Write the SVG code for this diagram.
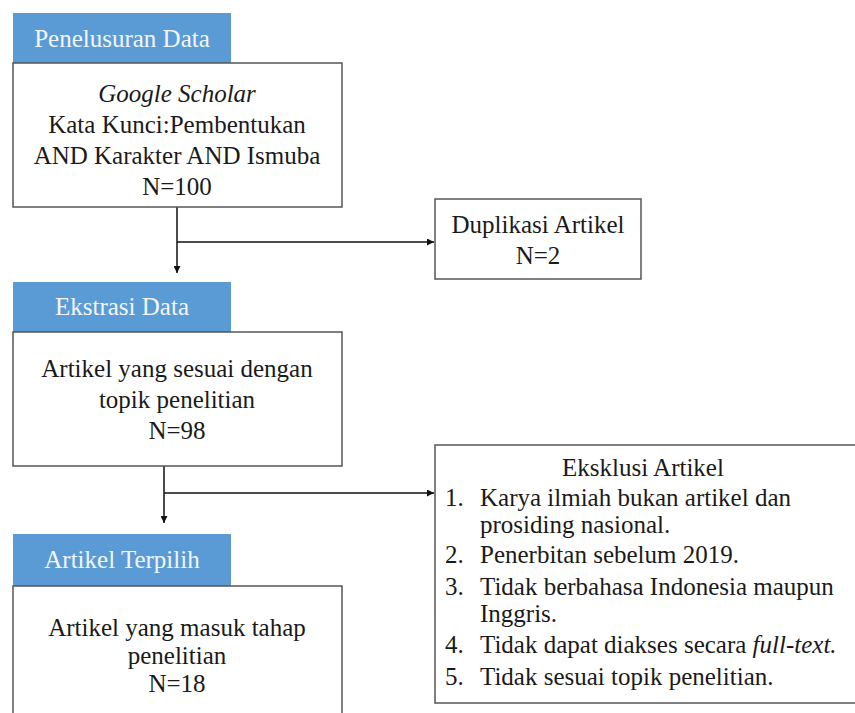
<svg xmlns="http://www.w3.org/2000/svg" width="855" height="713" viewBox="0 0 855 713">
<defs>
<style>
.t{font-family:'Liberation Serif','Times New Roman',Tinos,Times,'Noto Serif','DejaVu Serif',serif;font-size:25px;fill:#1a1a1a}
.c{text-anchor:middle}
.hd{fill:#5b9bd5}
.ht{font-family:'Liberation Serif','Times New Roman',Tinos,Times,'Noto Serif','DejaVu Serif',serif;font-size:25px;fill:#f2f6fb;text-anchor:middle}
.box{fill:#fff;stroke:#555;stroke-width:1.5}
.ln{fill:none;stroke:#111;stroke-width:1.5}
</style>
<marker id="ah" viewBox="0 0 10 10" refX="10" refY="5" markerWidth="7" markerHeight="7" markerUnits="userSpaceOnUse" orient="auto">
<path d="M0,0 L10,5 L0,10 z" fill="#111"/>
</marker>
</defs>
<rect width="855" height="713" fill="#fff"/>
<g id="connectors">
<path class="ln" d="M177,207 V273" marker-end="url(#ah)"/>
<path class="ln" d="M177,242 H434" marker-end="url(#ah)"/>
<path class="ln" d="M164,466 V523" marker-end="url(#ah)"/>
<path class="ln" d="M164,493 H434" marker-end="url(#ah)"/>
</g>
<g id="hdr1">
<rect class="hd" x="13" y="13" width="218" height="50"/>
<text class="ht" x="122" y="47">Penelusuran Data</text>
</g>
<g id="box1">
<rect class="box" x="13" y="63" width="329" height="144"/>
<text class="t c" x="177" y="102" font-style="italic">Google Scholar</text>
<text class="t c" x="177" y="133">Kata Kunci:Pembentukan</text>
<text class="t c" x="177" y="164">AND Karakter AND Ismuba</text>
<text class="t c" x="177" y="195">N=100</text>
</g>
<g id="dup">
<rect class="box" x="435" y="199" width="206" height="80"/>
<text class="t c" x="538" y="233">Duplikasi Artikel</text>
<text class="t c" x="538" y="264">N=2</text>
</g>
<g id="hdr2">
<rect class="hd" x="13" y="282" width="218" height="50"/>
<text class="ht" x="122" y="315">Ekstrasi Data</text>
</g>
<g id="box2">
<rect class="box" x="13" y="332" width="329" height="134"/>
<text class="t c" x="177" y="377">Artikel yang sesuai dengan</text>
<text class="t c" x="177" y="408">topik penelitian</text>
<text class="t c" x="177" y="439">N=98</text>
</g>
<g id="excl">
<rect class="box" x="435" y="445" width="430" height="258"/>
<text class="t c" x="643" y="476">Eksklusi Artikel</text>
<text class="t" x="445" y="506">1.</text>
<text class="t" x="480" y="506">Karya ilmiah bukan artikel dan</text>
<text class="t" x="480" y="533">prosiding nasional.</text>
<text class="t" x="445" y="563">2.</text>
<text class="t" x="480" y="563">Penerbitan sebelum 2019.</text>
<text class="t" x="445" y="595">3.</text>
<text class="t" x="480" y="595">Tidak berbahasa Indonesia maupun</text>
<text class="t" x="480" y="622">Inggris.</text>
<text class="t" x="445" y="653">4.</text>
<text class="t" x="480" y="653">Tidak dapat diakses secara <tspan font-style="italic">full-text.</tspan></text>
<text class="t" x="445" y="685">5.</text>
<text class="t" x="480" y="685">Tidak sesuai topik penelitian.</text>
</g>
<g id="hdr3">
<rect class="hd" x="13" y="534" width="218" height="52"/>
<text class="ht" x="122" y="568">Artikel Terpilih</text>
</g>
<g id="box3">
<rect class="box" x="13" y="586" width="329" height="140"/>
<text class="t c" x="177" y="636">Artikel yang masuk tahap</text>
<text class="t c" x="177" y="664">penelitian</text>
<text class="t c" x="177" y="692">N=18</text>
</g>
</svg>
